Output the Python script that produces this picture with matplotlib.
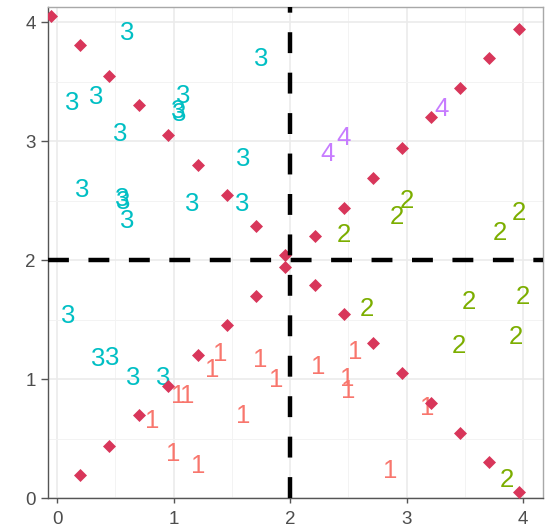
import matplotlib.pyplot as plt
from matplotlib.ticker import MultipleLocator

# --- Data ---
# points on the two diagonals
diag_x = [0.20, 0.45, 0.70, 0.95, 1.21, 1.46, 1.71, 1.96,
          2.21, 2.46, 2.71, 2.96, 3.21, 3.46, 3.71, 3.96]
diag_y = [0.19, 0.44, 0.70, 0.94, 1.20, 1.45, 1.70, 1.94,
          2.20, 2.44, 2.69, 2.94, 3.20, 3.45, 3.70, 3.94]
anti_x = [-0.05, 0.20, 0.45, 0.70, 0.95, 1.21, 1.46, 1.71, 1.96,
          2.21, 2.46, 2.71, 2.96, 3.21, 3.46, 3.71, 3.96]
anti_y = [4.05, 3.81, 3.55, 3.30, 3.05, 2.80, 2.55, 2.29, 2.04,
          1.79, 1.55, 1.30, 1.05, 0.80, 0.55, 0.30, 0.05]

# labelled observations, one list per class
c1_x = [1.33, 1.40, 0.82, 1.04, 1.12, 1.00, 1.21, 1.60, 1.74, 1.88,
        2.24, 2.56, 2.49, 2.50, 3.18, 2.86]
c1_y = [1.10, 1.23, 0.67, 0.88, 0.88, 0.39, 0.29, 0.71, 1.18, 1.01,
        1.12, 1.25, 1.02, 0.92, 0.78, 0.25]
c2_x = [2.46, 2.92, 3.00, 3.80, 3.96, 2.66, 3.53, 4.00, 3.45, 3.94, 3.86]
c2_y = [2.23, 2.38, 2.52, 2.25, 2.42, 1.61, 1.67, 1.71, 1.30, 1.37, 0.17]
c3_x = [0.60, 1.75, 0.13, 0.34, 1.08, 1.04, 1.05, 0.54, 1.60, 0.22,
        0.56, 0.57, 0.60, 1.16, 1.59, 0.10, 0.35, 0.47, 0.65, 0.91]
c3_y = [3.93, 3.71, 3.34, 3.39, 3.40, 3.27, 3.25, 3.08, 2.87, 2.61,
        2.53, 2.51, 2.35, 2.49, 2.49, 1.55, 1.19, 1.20, 1.03, 1.03]
c4_x = [2.32, 2.46, 3.30]
c4_y = [2.91, 3.05, 3.29]

classes = [("1", c1_x, c1_y, "#F8766D"),
           ("2", c2_x, c2_y, "#7CAE00"),
           ("3", c3_x, c3_y, "#00BFC4"),
           ("4", c4_x, c4_y, "#C77CFF")]

plt.rcParams['font.family'] = ['Liberation Sans', 'DejaVu Sans']

fig = plt.figure(figsize=(5.46, 5.29), dpi=100)
ax = fig.add_axes([0.088, 0.0586, 0.9065, 0.928])

for lab, xs, ys, col in classes:
    for x, y in zip(xs, ys):
        ax.text(x, y, lab, color=col, fontsize=18.5, ha='center',
                va='center_baseline', zorder=3)

ax.scatter(diag_x + anti_x, diag_y + anti_y, marker='D', s=44,
           color='#D8365A', linewidths=0, zorder=4)

ax.axvline(2, color='black', lw=3.2, dashes=(4.7, 4.4), zorder=5)
ax.axhline(2, color='black', lw=3.2, dashes=(4.7, 4.4), zorder=5)

ax.set_xlim(-0.077, 4.17)
ax.set_ylim(0, 4.126)
ax.xaxis.set_major_locator(MultipleLocator(1))
ax.yaxis.set_major_locator(MultipleLocator(1))
ax.xaxis.set_minor_locator(MultipleLocator(0.5))
ax.yaxis.set_minor_locator(MultipleLocator(0.5))
ax.grid(which='major', color='#EBEBEB', lw=1.2, zorder=0)
ax.grid(which='minor', color='#F3F3F3', lw=0.7, zorder=0)
ax.set_axisbelow(True)

for side in ['left', 'bottom']:
    ax.spines[side].set_color('#555555')
    ax.spines[side].set_linewidth(1.0)
for side in ['top', 'right']:
    ax.spines[side].set_color('#A8A8A8')
    ax.spines[side].set_linewidth(1.0)

ax.tick_params(which='minor', length=0)
ax.tick_params(axis='y', which='major', length=5, width=1, color='#555555',
               labelsize=13.5, labelcolor='#4D4D4D', pad=4)
ax.tick_params(axis='x', which='major', length=3.5, width=1, color='#555555',
               labelsize=13.5, labelcolor='#4D4D4D', pad=6)

fig.savefig("out.png", dpi=100)
